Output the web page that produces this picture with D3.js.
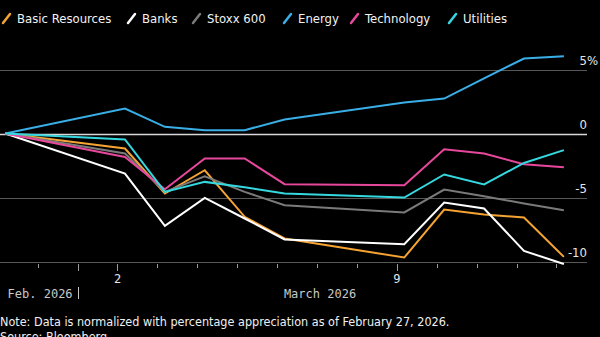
<!DOCTYPE html>
<html>
<head>
<meta charset="utf-8">
<script src="https://d3js.org/d3.v7.min.js"></script>
<style>
    body { margin: 0; background: #000; }
    svg { display: block; background: #000; }
    text { font-family: "DejaVu Sans Condensed", "DejaVu Sans", sans-serif; }
    .mono { font-family: "DejaVu Sans Mono", monospace; }
</style>
</head>
<body>
<svg id="chart" width="600" height="337"></svg>
<script>
// trading days (closing values)
var dates = ["2026-02-27", "2026-03-02", "2026-03-03", "2026-03-04", "2026-03-05", "2026-03-06",
             "2026-03-09", "2026-03-10", "2026-03-11", "2026-03-12", "2026-03-13"];

var seriesNames = ["Basic Resources", "Banks", "Stoxx 600", "Energy", "Technology", "Utilities"];
var seriesColors = ["#f5a434", "#ffffff", "#7a7a7a", "#3aaee6", "#e8489c", "#35d8df"];

// percentage change vs Feb 27, 2026
var basicResources = [0, -1.17, -4.69, -2.87, -6.51, -8.2, -9.69, -5.94, -6.33, -6.56, -9.64];
var banks          = [0, -3.13, -7.22, -5.03, -6.64, -8.28, -8.65, -5.39, -5.86, -9.17, -10.2];
var stoxx600       = [0, -1.56, -4.56, -3.34, -4.56, -5.6, -6.17, -4.38, -4.9, -5.47, -6.0];
var energy         = [0, 1.95, 0.52, 0.26, 0.26, 1.1, 2.42, 2.73, 4.3, 5.86, 6.04];
var technology     = [0, -1.83, -4.35, -1.95, -1.95, -3.96, -4.04, -1.23, -1.56, -2.4, -2.63];
var utilities      = [0, -0.47, -4.56, -3.78, -4.2, -4.69, -5.0, -3.2, -3.98, -2.3, -1.3];

var seriesValues = [basicResources, banks, stoxx600, energy, technology, utilities];

var yTicks = [5, 0, -5, -10];
var yTickLabels = ["5", "0", "-5", "-10"];
var labeledDays = ["2026-03-02", "2026-03-09"];
var monthLabels = ["Feb. 2026", "March 2026"];
var noteText = "Note: Data is normalized with percentage appreciation as of February 27, 2026.";
var sourceText = "Source: Bloomberg";

var svg = d3.select("#chart");
var parse = d3.utcParse("%Y-%m-%d");
var closeOffset = 4.5 * 3600 * 1000; // points sit a little after midnight tick

var right = 587;

var x = d3.scaleUtc()
    .domain([parse("2026-02-27"), parse("2026-03-14")])
    .range([-2.2, -2.2 + 15 * 39.9]);

var y = d3.scaleLinear()
    .domain([-10, 5])
    .range([261.5, 69.5]);

// gridlines
svg.append("g").selectAll("line")
    .data(yTicks)
    .enter().append("line")
    .attr("x1", 0).attr("x2", right)
    .attr("y1", d => Math.round(y(d)) + 0.5)
    .attr("y2", d => Math.round(y(d)) + 0.5)
    .attr("stroke", d => d == 0 ? "#d8d8d8" : "#585858")
    .attr("stroke-width", d => d == 0 ? 1.5 : 1);

// y labels, right aligned, percent sign hanging
var yl = svg.append("g").attr("font-size", 13).attr("fill", "#e6e6e6");
yTicks.forEach(function (t, i) {
    yl.append("text")
        .attr("x", right).attr("y", y(t) - 5)
        .attr("text-anchor", "end")
        .text(yTickLabels[i]);
});
yl.append("text").attr("x", right).attr("y", y(5) - 5).text("%");

// x axis ticks - one per day
var days = d3.utcDay.range(parse("2026-02-28"), parse("2026-03-14"));
var tallDays = ["2026-03-01"].concat(labeledDays);
svg.append("g").selectAll("line")
    .data(days)
    .enter().append("line")
    .attr("x1", d => Math.round(x(d)) + 0.5)
    .attr("x2", d => Math.round(x(d)) + 0.5)
    .attr("y1", 264)
    .attr("y2", d => tallDays.indexOf(d3.utcFormat("%Y-%m-%d")(d)) >= 0 ? 271 : 268)
    .attr("stroke", "#9a9a9a")
    .attr("stroke-width", 1);

svg.append("g").selectAll("text")
    .data(labeledDays)
    .enter().append("text")
    .attr("class", "mono")
    .attr("x", d => x(parse(d)))
    .attr("y", 283)
    .attr("text-anchor", "middle")
    .attr("font-size", 12)
    .attr("fill", "#e6e6e6")
    .text(d => +d.slice(8));

// month labels
var monthStart = x(parse("2026-03-01"));
svg.append("text").attr("class", "mono")
    .attr("x", monthStart - 5).attr("y", 298)
    .attr("text-anchor", "end").attr("font-size", 12).attr("fill", "#c8c8c8")
    .text(monthLabels[0]);
svg.append("line")
    .attr("x1", Math.round(monthStart) + 0.5).attr("x2", Math.round(monthStart) + 0.5)
    .attr("y1", 287).attr("y2", 299)
    .attr("stroke", "#c8c8c8");
svg.append("text").attr("class", "mono")
    .attr("x", x(parse("2026-03-07")) + 3).attr("y", 298)
    .attr("text-anchor", "middle").attr("font-size", 12).attr("fill", "#c8c8c8")
    .text(monthLabels[1]);

// lines
var line = d3.line()
    .x((d, i) => x(new Date(parse(dates[i]).getTime() + closeOffset)))
    .y(d => y(d));

svg.append("g").selectAll("path")
    .data(seriesValues)
    .enter().append("path")
    .attr("d", d => line(d))
    .attr("fill", "none")
    .attr("stroke", (d, i) => seriesColors[i])
    .attr("stroke-width", 2)
    .attr("stroke-linejoin", "miter");

// legend
var legendX = [2, 127, 192, 283, 350, 448];
var lg = svg.append("g").selectAll("g")
    .data(seriesNames)
    .enter().append("g")
    .attr("transform", (d, i) => "translate(" + legendX[i] + ",0)");
lg.append("line")
    .attr("x1", 1).attr("y1", 23).attr("x2", 8).attr("y2", 14)
    .attr("stroke", (d, i) => seriesColors[i])
    .attr("stroke-width", 2.5)
    .attr("stroke-linecap", "round");
lg.append("text")
    .attr("x", 15).attr("y", 23)
    .attr("font-size", 13)
    .attr("fill", "#f2f2f2")
    .text(d => d);

// footnote
svg.append("text").attr("x", 0).attr("y", 326).attr("font-size", 12.5).attr("fill", "#f0f0f0").text(noteText);
svg.append("text").attr("x", 0).attr("y", 341).attr("font-size", 12.5).attr("fill", "#f0f0f0").text(sourceText);
</script>
</body>
</html>
